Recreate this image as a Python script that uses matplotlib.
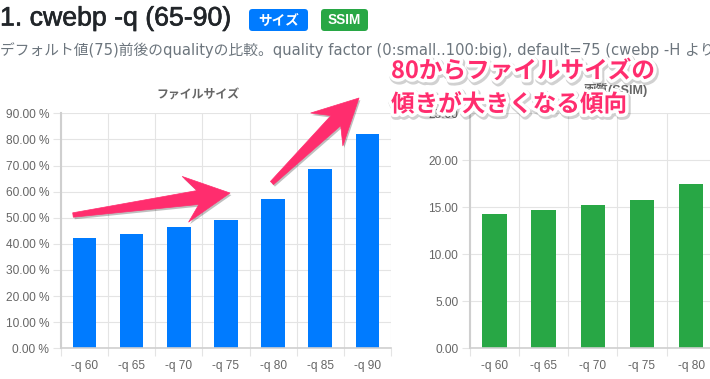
import numpy as np
import matplotlib
matplotlib.use("Agg")
import matplotlib.pyplot as plt
from matplotlib.transforms import Affine2D
from matplotlib.patches import Polygon, FancyBboxPatch
import matplotlib.patheffects as pe

plt.rcParams['font.family'] = ['Noto Sans CJK JP', 'DejaVu Sans']

# ---- data ----
categories = ["-q 60", "-q 65", "-q 70", "-q 75", "-q 80", "-q 85", "-q 90"]
size_pct = [42.2, 43.7, 46.3, 49.1, 57.2, 68.5, 82.1]          # ファイルサイズ (%)
ssim_cats = ["-q 60", "-q 65", "-q 70", "-q 75", "-q 80"]       # visible part of 画質(SSIM)
ssim_vals = [14.29, 14.68, 15.25, 15.78, 17.48]

size_ticks = [0, 10, 20, 30, 40, 50, 60, 70, 80, 90]
ssim_ticks = [0, 5, 10, 15, 20, 25]

W, H = 710, 379
fig = plt.figure(figsize=(W / 100, H / 100), dpi=100)
fig.patch.set_facecolor("white")
# pixel transform (origin top-left, y down)
pix = Affine2D().scale(1, -1).translate(0, H).scale(1 / W, 1 / H) + fig.transFigure

GRID = "#e4e4e4"
AXC = "#cfcfcf"
TXT = "#666666"
LAT = ["Liberation Sans", "DejaVu Sans"]
LATJ = ["Liberation Sans", "Noto Sans CJK JP", "DejaVu Sans"]
WIDEJ = ["DejaVu Sans", "Noto Sans CJK JP"]


def style_axes(ax, ncat, labels, yticks, fmt):
    ax.set_xlim(-0.5, ncat - 0.5)
    ax.set_ylim(yticks[0], yticks[-1])
    ax.set_yticks(yticks)
    ax.set_yticklabels([fmt(v) for v in yticks], family=LAT, fontsize=8.6, color=TXT)
    ax.set_xticks(np.arange(len(labels)))
    ax.set_xticklabels(labels, family=LAT)
    ax.set_xticks(np.arange(-0.5, ncat, 1.0), minor=True)
    ax.grid(True, which="major", axis="y", color=GRID, lw=0.8, zorder=0)
    ax.grid(True, which="minor", axis="x", color=GRID, lw=0.8, zorder=0)
    ax.tick_params(axis="x", which="major", length=0, pad=8.5, labelsize=8.6, labelcolor=TXT)
    ax.tick_params(axis="x", which="minor", length=6, color=GRID, width=0.8)
    ax.tick_params(axis="y", which="major", length=6, color=GRID, width=0.8, pad=2.5)
    for s in ("top", "right"):
        ax.spines[s].set_visible(False)
    ax.spines["left"].set_color(AXC)
    ax.spines["left"].set_linewidth(1.5)
    ax.spines["bottom"].set_color(AXC)
    ax.spines["bottom"].set_linewidth(1.2)
    ax.set_axisbelow(True)


# ---- left chart: file size ----
ax1 = fig.add_axes([61 / W, (H - 348.3) / H, 330 / W, 235 / H])
x1 = np.arange(len(categories))
ax1.bar(x1, size_pct, width=0.5, color="#007bff", zorder=2)
style_axes(ax1, len(categories), categories, size_ticks, lambda v: f"{v:.2f} %")

# ---- right chart: SSIM (cropped by the screenshot) ----
ax2 = fig.add_axes([470 / W, (H - 348.3) / H, 344 / W, 235 / H])
x2 = np.arange(len(ssim_cats))
ax2.bar(x2, ssim_vals, width=0.5, color="#28a745", zorder=2)
style_axes(ax2, len(categories), ssim_cats, ssim_ticks, lambda v: f"{v:.2f}")

# chart titles
fig.text(198, 95, "ファイルサイズ", transform=pix, ha="center", va="center",
         fontsize=8.6, fontweight="bold", color=TXT)
fig.text(615, 90.5, "画質(SSIM)", transform=pix, ha="center", va="center",
         fontsize=9, fontweight="bold", color=TXT, family=LATJ)

# ---- header ----
hdr = fig.text(0, 18.5, "1. cwebp -q (65-90)", transform=pix, ha="left", va="center",
               fontsize=19.2, color="#212529", family=LAT)
hdr.set_path_effects([pe.Stroke(linewidth=0.45, foreground="#212529"), pe.Normal()])


def badge(x0, x1, label, color):
    p = FancyBboxPatch((x0, 9), x1 - x0, 22, boxstyle="round,pad=0,rounding_size=3.5",
                       transform=pix, fc=color, ec="none")
    fig.add_artist(p)
    fig.text((x0 + x1) / 2, 20.5, label, transform=pix, ha="center", va="center",
             fontsize=9.8, fontweight="bold", color="white", family=LATJ)


badge(249, 308, "サイズ", "#007bff")
badge(321, 368, "SSIM", "#28a745")

fig.text(0, 50, "デフォルト値(75)前後のqualityの比較。quality factor (0:small..100:big), default=75 (cwebp -H より",
         transform=pix, ha="left", va="center", fontsize=10.6, color="#6c757d", family=WIDEJ)

# ---- annotation arrows ----
PINK = "#ff2d6e"


def arrow(tail, tip, head_len=45, head_w=23, neck_w=7, tail_w=2.2):
    p0 = np.array(tail, float)
    p1 = np.array(tip, float)
    u = (p1 - p0) / np.linalg.norm(p1 - p0)
    n = np.array([-u[1], u[0]])
    pts = [p0 + n * tail_w,
           p1 - u * head_len * 0.72 + n * neck_w,
           p1 - u * head_len + n * head_w,
           p1,
           p1 - u * head_len - n * head_w,
           p1 - u * head_len * 0.72 - n * neck_w,
           p0 - n * tail_w]
    poly = Polygon(pts, closed=True, transform=pix, fc=PINK, ec=PINK, lw=0.5,
                   joinstyle="round", zorder=10)
    poly.set_path_effects([pe.SimplePatchShadow(offset=(1, -1.5), shadow_rgbFace="black", alpha=0.25),
                           pe.Normal()])
    fig.add_artist(poly)


arrow((73, 215), (230, 193))
arrow((272, 183), (359, 98))

# ---- annotation text ----
effects = [pe.Stroke(linewidth=6, foreground=(0, 0, 0, 0.18), offset=(1, -1.5)),
           pe.Stroke(linewidth=5, foreground="white"),
           pe.Normal()]
for yy, line in [(71, "80からファイルサイズの"), (104.5, "傾きが大きくなる傾向")]:
    t = fig.text(391, yy, line, transform=pix, ha="left", va="center",
                 fontsize=17, fontweight="bold", color=PINK, zorder=20)
    t.set_path_effects(effects)

fig.savefig("out.png", dpi=100, facecolor="white")
